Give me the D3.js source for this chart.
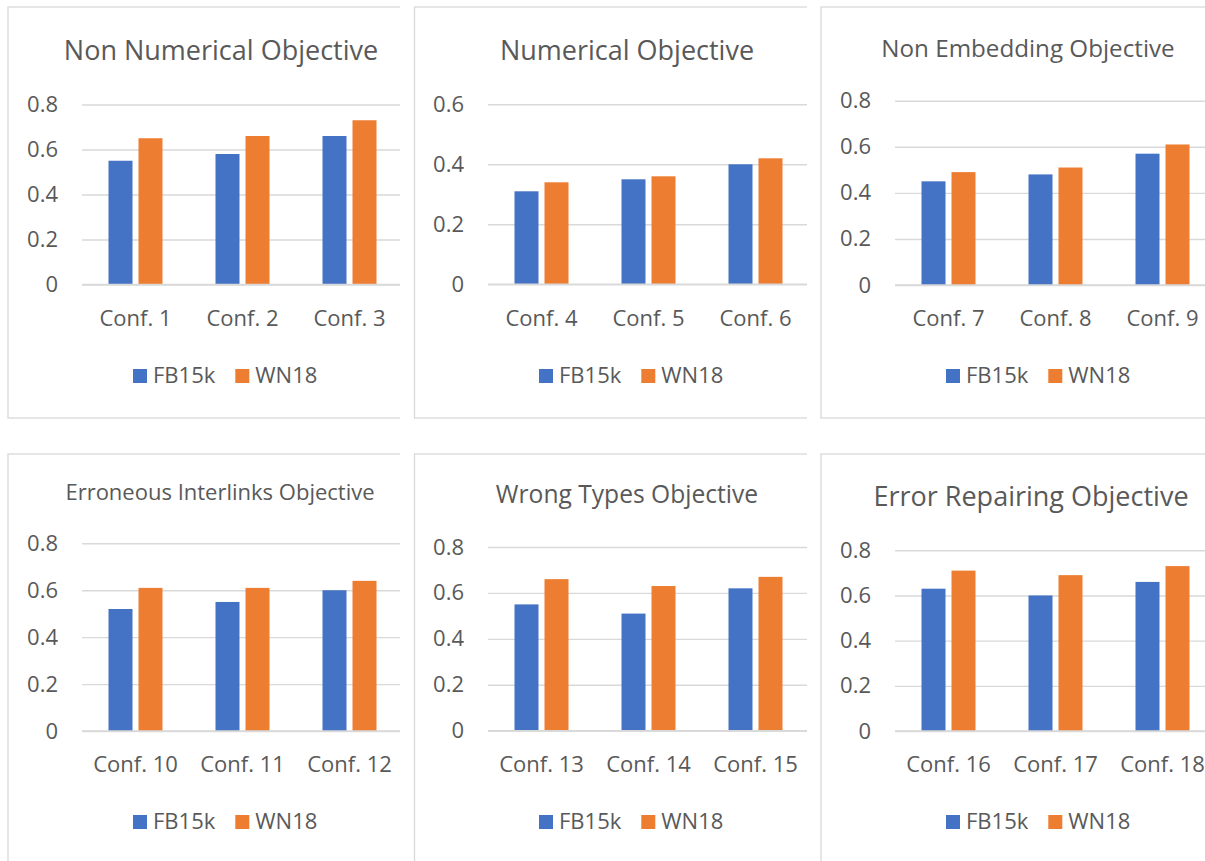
<!DOCTYPE html>
<html>
<head>
<meta charset="utf-8">
<script src="https://cdn.jsdelivr.net/npm/d3@7"></script>
<style>
  html, body { margin: 0; padding: 0; background: #fff; }
  svg { display: block; }
  text { font-family: "Open Sans", "Noto Sans", sans-serif; fill: #595959; }
</style>
</head>
<body>
<svg id="chart" width="1205" height="861"></svg>
<script>
// Chart data
const titles = [
  "Non Numerical Objective",
  "Numerical Objective",
  "Non Embedding Objective",
  "Erroneous Interlinks Objective",
  "Wrong Types Objective",
  "Error Repairing Objective"
];
const categories = [
  ["Conf. 1", "Conf. 2", "Conf. 3"],
  ["Conf. 4", "Conf. 5", "Conf. 6"],
  ["Conf. 7", "Conf. 8", "Conf. 9"],
  ["Conf. 10", "Conf. 11", "Conf. 12"],
  ["Conf. 13", "Conf. 14", "Conf. 15"],
  ["Conf. 16", "Conf. 17", "Conf. 18"]
];
const seriesNames = ["FB15k", "WN18"];
const fb15k = [
  [0.55, 0.58, 0.66],
  [0.31, 0.35, 0.40],
  [0.45, 0.48, 0.57],
  [0.52, 0.55, 0.60],
  [0.55, 0.51, 0.62],
  [0.63, 0.60, 0.66]
];
const wn18 = [
  [0.65, 0.66, 0.73],
  [0.34, 0.36, 0.42],
  [0.49, 0.51, 0.61],
  [0.61, 0.61, 0.64],
  [0.66, 0.63, 0.67],
  [0.71, 0.69, 0.73]
];
const yTicks = [
  [0, 0.2, 0.4, 0.6, 0.8],
  [0, 0.2, 0.4, 0.6],
  [0, 0.2, 0.4, 0.6, 0.8],
  [0, 0.2, 0.4, 0.6, 0.8],
  [0, 0.2, 0.4, 0.6, 0.8],
  [0, 0.2, 0.4, 0.6, 0.8]
];

// Panel layout (frame, plot area and text placement for each small chart)
const layout = [
  { fx: 8,   fy: 7,   fb: 418, clipR: 400,  plotL: 82,  y0: 284.5, yTop: 104.5, titleX: 221,  titleY: 60,  titleSize: 27,   xLabY: 326, legY: 369 },
  { fx: 414.5, fy: 7, fb: 418, clipR: 807,  plotL: 488, y0: 284.3, yTop: 104.3, titleX: 627,  titleY: 60,  titleSize: 27,   xLabY: 326, legY: 369 },
  { fx: 821, fy: 7,   fb: 418, clipR: 1205, plotL: 895, y0: 285,   yTop: 100.7, titleX: 1028, titleY: 57,  titleSize: 24.2, xLabY: 326, legY: 369 },
  { fx: 8,   fy: 454, fb: 880, clipR: 400,  plotL: 82,  y0: 731,   yTop: 543.3, titleX: 220,  titleY: 500, titleSize: 22,   xLabY: 772, legY: 815 },
  { fx: 414.5, fy: 454, fb: 880, clipR: 807, plotL: 488, y0: 730.7, yTop: 547,  titleX: 627,  titleY: 503, titleSize: 24.6, xLabY: 772, legY: 815 },
  { fx: 821, fy: 454, fb: 880, clipR: 1205, plotL: 895, y0: 731,   yTop: 550.3, titleX: 1031, titleY: 506, titleSize: 27,   xLabY: 772, legY: 815 }
];

const colors = d3.scaleOrdinal().domain(seriesNames).range(["#4472C4", "#ED7D31"]);
const gridColor = "#d9d9d9";
const bandStep = 107;
const labelSize = "22px";

const svg = d3.select("#chart");
const defs = svg.append("defs");

layout.forEach((p, i) => {
  const clipId = "clip" + i;
  defs.append("clipPath").attr("id", clipId)
    .append("rect")
    .attr("x", p.fx - 2).attr("y", p.fy - 2)
    .attr("width", p.clipR - p.fx + 2).attr("height", p.fb - p.fy + 4);

  const g = svg.append("g").attr("clip-path", `url(#${clipId})`);

  // chart frame
  g.append("rect")
    .attr("x", p.fx).attr("y", p.fy)
    .attr("width", 1000).attr("height", p.fb - p.fy)
    .attr("fill", "none").attr("stroke", gridColor).attr("stroke-width", 1.3);

  const ticks = yTicks[i];
  const y = d3.scaleLinear().domain([0, d3.max(ticks)]).range([p.y0, p.yTop]);
  const x = d3.scaleBand().domain(categories[i])
    .range([p.plotL, p.plotL + bandStep * categories[i].length]);
  const xs = d3.scaleBand().domain(seriesNames)
    .range([26.5, 80.5]).paddingInner(0.2);

  // horizontal gridlines
  const yAxis = d3.axisLeft(y).tickValues(ticks)
    .tickSize(-(bandStep * categories[i].length))
    .tickPadding(24)
    .tickFormat(d => d === 0 ? "0" : d3.format(".1f")(d));
  const ya = g.append("g").attr("transform", `translate(${p.plotL},0)`).call(yAxis);
  ya.select(".domain").remove();
  ya.selectAll(".tick line").attr("stroke", gridColor).attr("stroke-width", 1.4);
  ya.selectAll(".tick text")
    .attr("fill", "#595959")
    .style("font-size", labelSize)
    .style("font-family", '"Open Sans", "Noto Sans", sans-serif');

  // bars
  const rows = categories[i].map((c, k) => ({ cat: c, values: [fb15k[i][k], wn18[i][k]] }));
  const groups = g.append("g").selectAll("g").data(rows).join("g")
    .attr("transform", d => `translate(${x(d.cat)},0)`);
  groups.selectAll("rect")
    .data(d => d.values.map((v, s) => ({ name: seriesNames[s], value: v })))
    .join("rect")
    .attr("x", d => xs(d.name))
    .attr("width", xs.bandwidth())
    .attr("y", d => y(d.value))
    .attr("height", d => y(0) - y(d.value))
    .attr("fill", d => colors(d.name));

  // baseline redrawn above the bars
  g.append("line")
    .attr("x1", p.plotL).attr("x2", p.plotL + bandStep * 3)
    .attr("y1", y(0)).attr("y2", y(0))
    .attr("stroke", gridColor).attr("stroke-width", 1.4);

  // category labels
  g.append("g").selectAll("text").data(categories[i]).join("text")
    .attr("x", d => x(d) + x.bandwidth() / 2)
    .attr("y", p.xLabY)
    .attr("text-anchor", "middle")
    .style("font-size", labelSize)
    .text(d => d);

  // title
  g.append("text")
    .attr("x", p.titleX).attr("y", p.titleY)
    .attr("text-anchor", "middle")
    .style("font-size", p.titleSize + "px")
    .text(titles[i]);

  // legend
  const legOffsets = [51, 153.3];
  const leg = g.append("g").selectAll("g").data(seriesNames).join("g")
    .attr("transform", (d, s) => `translate(${p.plotL + legOffsets[s]},${p.legY})`);
  leg.append("rect").attr("width", 14).attr("height", 14).attr("fill", d => colors(d));
  leg.append("text").attr("x", 20).attr("y", 14)
    .style("font-size", labelSize)
    .text(d => d);
});
</script>
</body>
</html>
